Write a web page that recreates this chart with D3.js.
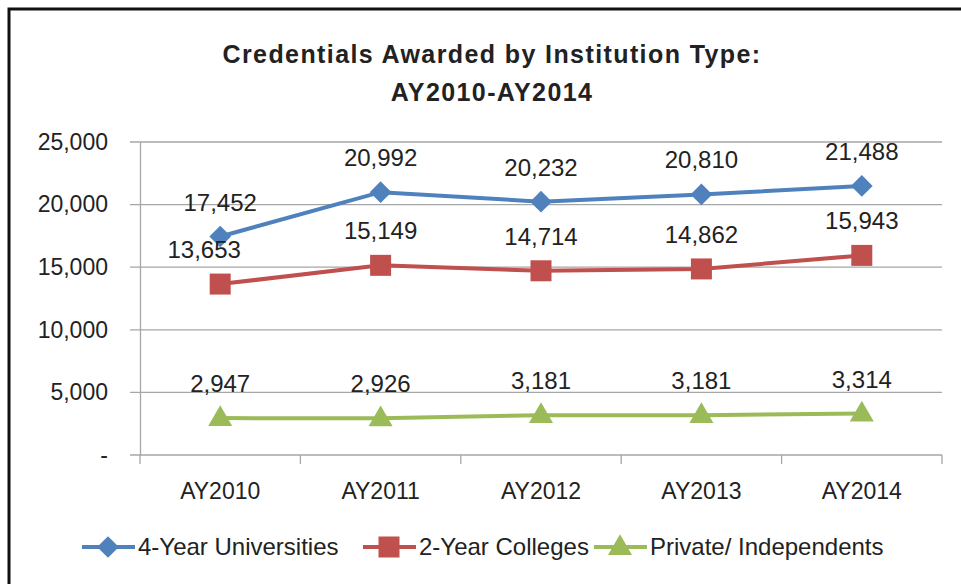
<!DOCTYPE html>
<html>
<head>
<meta charset="utf-8">
<script src="https://cdn.jsdelivr.net/npm/d3@7"></script>
<style>
  body { margin: 0; background: #fff; }
  text { font-family: "Liberation Sans", Arial, sans-serif; fill: #222; }
</style>
</head>
<body>
<script>
/* chart data */
var years = ["AY2010", "AY2011", "AY2012", "AY2013", "AY2014"];
var universities = [17452, 20992, 20232, 20810, 21488];
var colleges = [13653, 15149, 14714, 14862, 15943];
var privates = [2947, 2926, 3181, 3181, 3314];
var yTicks = [0, 5000, 10000, 15000, 20000, 25000];

var series = [
  { name: "4-Year Universities", values: universities, color: "#4F81BD", marker: "diamond" },
  { name: "2-Year Colleges", values: colleges, color: "#C0504D", marker: "square" },
  { name: "Private/ Independents", values: privates, color: "#9BBB59", marker: "triangle" }
];

var W = 961, H = 584;
var svg = d3.select("body").append("svg")
            .attr("width", W)
            .attr("height", H);

/* outer frame */
svg.append("rect")
   .attr("x", 9).attr("y", 9)
   .attr("width", W + 20).attr("height", H + 20)
   .attr("fill", "none")
   .attr("stroke", "#111")
   .attr("stroke-width", 3);

/* title */
svg.append("text")
   .attr("x", 492).attr("y", 63)
   .attr("text-anchor", "middle")
   .style("font-size", "25px").style("font-weight", "bold")
   .style("letter-spacing", "1.4px")
   .text("Credentials Awarded by Institution Type:");
svg.append("text")
   .attr("x", 492).attr("y", 101)
   .attr("text-anchor", "middle")
   .style("font-size", "25px").style("font-weight", "bold")
   .style("letter-spacing", "1.4px")
   .text("AY2010-AY2014");

var pLeft = 140, pRight = 942, pTop = 142, pBottom = 455;

var x = d3.scaleBand().domain(years).range([pLeft, pRight]);
var y = d3.scaleLinear().domain([0, 25000]).range([pBottom, pTop]);

/* gridlines */
svg.append("g").selectAll("line")
   .data(yTicks)
   .enter()
   .append("line")
   .attr("x1", pLeft - 10).attr("x2", pRight)
   .attr("y1", function(d) { return y(d); })
   .attr("y2", function(d) { return y(d); })
   .attr("stroke", "#A6A6A6")
   .attr("stroke-width", 1.3);

/* y axis */
var yAxis = d3.axisLeft(y)
              .tickValues(yTicks)
              .tickSize(0)
              .tickPadding(32)
              .tickFormat(function(d) { return d === 0 ? "-" : d3.format(",")(d); });
var gy = svg.append("g").attr("transform", "translate(" + pLeft + ",0)").call(yAxis);
gy.select(".domain").attr("stroke", "#A6A6A6").attr("stroke-width", 1.3);
gy.selectAll("text").style("font-size", "23px").attr("fill", "#222")
  .style("font-family", "'Liberation Sans', Arial, sans-serif");

/* x axis */
var xAxis = d3.axisBottom(x).tickSize(0).tickPadding(28);
var gx = svg.append("g").attr("transform", "translate(0," + pBottom + ")").call(xAxis);
gx.select(".domain").remove();
gx.selectAll("text").style("font-size", "23px").attr("fill", "#222")
  .style("font-family", "'Liberation Sans', Arial, sans-serif");
/* category separator ticks */
var edges = years.map(function(d) { return x(d); }).concat([pRight]);
gx.selectAll(".sep")
  .data(edges)
  .enter()
  .append("line")
  .attr("class", "sep")
  .attr("x1", function(d) { return d; }).attr("x2", function(d) { return d; })
  .attr("y1", 0).attr("y2", 9)
  .attr("stroke", "#A6A6A6").attr("stroke-width", 1.3);

function cx(i) { return x(years[i]) + x.bandwidth() / 2; }

function drawMarker(g, type, color, px, py) {
  if (type === "diamond") {
    g.append("path")
     .attr("d", d3.symbol().type(d3.symbolDiamond2).size(300)())
     .attr("transform", "translate(" + px + "," + py + ")")
     .attr("fill", color);
  } else if (type === "square") {
    g.append("rect")
     .attr("x", px - 10.5).attr("y", py - 10.5)
     .attr("width", 21).attr("height", 21)
     .attr("fill", color);
  } else {
    g.append("path")
     .attr("d", d3.symbol().type(d3.symbolTriangle).size(250)())
     .attr("transform", "translate(" + px + "," + (py + 1) + ")")
     .attr("fill", color);
  }
}

var line = d3.line()
             .x(function(d, i) { return cx(i); })
             .y(function(d) { return y(d); });

series.forEach(function(s, si) {
  var g = svg.append("g");
  g.append("path")
   .datum(s.values)
   .attr("d", line)
   .attr("fill", "none")
   .attr("stroke", s.color)
   .attr("stroke-width", 4);
  s.values.forEach(function(v, i) {
    drawMarker(g, s.marker, s.color, cx(i), y(v));
  });
  g.selectAll("text")
   .data(s.values)
   .enter()
   .append("text")
   .attr("x", function(d, i) { return cx(i) + (si === 1 && i === 0 ? -16 : 0); })
   .attr("y", function(d) { return y(d) - 26; })
   .attr("text-anchor", "middle")
   .style("font-size", "24px")
   .text(function(d) { return d3.format(",")(d); });
});

/* legend */
var legendX = [82, 363, 594];
var lg = svg.append("g");
series.forEach(function(s, i) {
  var lx = legendX[i], ly = 547;
  lg.append("line")
    .attr("x1", lx).attr("x2", lx + 53)
    .attr("y1", ly).attr("y2", ly)
    .attr("stroke", s.color).attr("stroke-width", 4);
  drawMarker(lg, s.marker, s.color, lx + 26, ly);
  lg.append("text")
    .attr("x", lx + 56).attr("y", ly + 8)
    .style("font-size", "24px")
    .text(s.name);
});
</script>
</body>
</html>
